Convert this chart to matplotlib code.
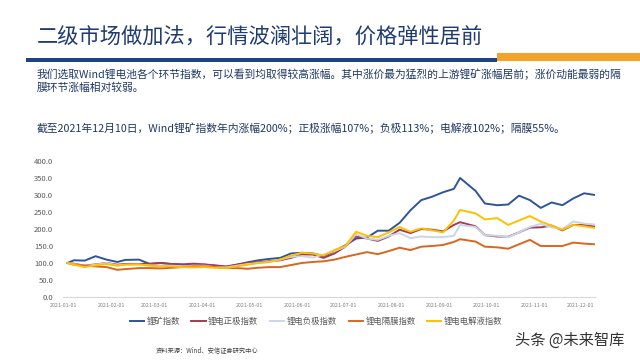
import pandas as pd
import matplotlib
matplotlib.use("Agg")
import matplotlib.pyplot as plt
import matplotlib.dates as mdates
from matplotlib.patches import Rectangle
from matplotlib.ticker import FormatStrFormatter

plt.rcParams["font.family"] = ["Noto Sans CJK SC", "DejaVu Sans"]

# ================= DATA =================
dates = [
    "2021-01-04", "2021-01-08", "2021-01-15", "2021-01-22", "2021-01-29",
    "2021-02-05", "2021-02-10", "2021-02-19", "2021-02-26", "2021-03-05",
    "2021-03-12", "2021-03-19", "2021-03-26", "2021-04-02", "2021-04-09",
    "2021-04-16", "2021-04-23", "2021-04-30", "2021-05-07", "2021-05-14",
    "2021-05-21", "2021-05-28", "2021-06-04", "2021-06-11", "2021-06-18",
    "2021-06-25", "2021-07-02", "2021-07-09", "2021-07-16", "2021-07-23",
    "2021-07-30", "2021-08-06", "2021-08-13", "2021-08-20", "2021-08-27",
    "2021-09-03", "2021-09-10", "2021-09-14", "2021-09-24", "2021-09-30",
    "2021-10-08", "2021-10-15", "2021-10-22", "2021-10-29", "2021-11-05",
    "2021-11-12", "2021-11-19", "2021-11-26", "2021-12-03", "2021-12-10",
]

lithium_mine = [
    100, 108, 107, 120, 110, 103, 109, 110, 97, 100,
    97, 95, 93, 95, 92, 88, 95, 102, 108, 112,
    115, 128, 130, 128, 120, 135, 152, 172, 175, 195,
    195, 218, 255, 285, 295, 308, 318, 350, 312, 275,
    270, 272, 298, 285, 262, 278, 270, 290, 305, 300,
]
cathode = [
    100, 98, 92, 96, 100, 95, 97, 97, 98, 100,
    97, 96, 98, 96, 93, 90, 95, 100, 102, 105,
    108, 115, 125, 125, 115, 128, 148, 178, 172, 165,
    178, 198, 188, 200, 198, 193, 212, 220, 208, 182,
    178, 177, 190, 204, 205, 210, 196, 212, 212, 207,
]
anode = [
    100, 97, 91, 95, 100, 93, 95, 95, 93, 92,
    92, 90, 92, 92, 88, 87, 92, 97, 100, 103,
    110, 118, 120, 116, 125, 135, 148, 185, 172, 168,
    180, 188, 173, 178, 176, 176, 180, 212, 206, 182,
    180, 176, 190, 206, 215, 205, 200, 222, 216, 213,
]
separator = [
    100, 95, 92, 90, 88, 80, 82, 85, 85, 84,
    86, 88, 90, 90, 88, 85, 85, 83, 86, 88,
    88, 94, 100, 103, 105, 110, 118, 125, 132, 126,
    135, 145, 138, 148, 150, 153, 162, 170, 163, 148,
    146, 142, 155, 168, 150, 150, 150, 160, 157, 155,
]
electrolyte = [
    100, 95, 88, 93, 97, 92, 95, 96, 92, 90,
    90, 88, 87, 88, 86, 85, 90, 95, 100, 103,
    110, 122, 130, 128, 122, 138, 150, 192, 180, 176,
    190, 206, 192, 202, 196, 190, 225, 256, 246, 228,
    232, 212, 225, 238, 222, 210, 198, 212, 208, 203,
]

series_names = ["锂矿指数", "锂电正极指数", "锂电负极指数", "锂电隔膜指数", "锂电电解液指数"]
series_colors = ["#2F5597", "#A63A4E", "#C9D5EC", "#D9661F", "#FFC000"]

title = "二级市场做加法，行情波澜壮阔，价格弹性居前"
para_1 = "我们选取Wind锂电池各个环节指数，可以看到均取得较高涨幅。其中涨价最为猛烈的上游锂矿涨幅居前；涨价动能最弱的隔"
para_2 = "膜环节涨幅相对较弱。"
para_3 = "截至2021年12月10日，Wind锂矿指数年内涨幅200%；正极涨幅107%；负极113%；电解液102%；隔膜55%。"
source = "资料来源：Wind、安信证券研究中心"
watermark = "头条 @未来智库"


W, H = 640, 360
fig = plt.figure(figsize=(6.4, 3.6), dpi=100)


def fx(px):
    return px / W


def fy(py):
    return 1 - py / H


# ================= HEADER =================
fig.text(fx(37), fy(37), title, fontsize=15.3, color="#1F3B70", va="center", ha="left")
fig.add_artist(Rectangle((fx(26), fy(62)), fx(497 - 26), 4.5 / H,
                         transform=fig.transFigure, color="#1F4283", lw=0))
fig.add_artist(Rectangle((fx(497), fy(61)), fx(143), 8 / H,
                         transform=fig.transFigure, color="#F4A32A", lw=0))

text_color = "#1F3864"
fig.text(fx(37), fy(74), para_1, fontsize=7.75, color=text_color, va="center")
fig.text(fx(37), fy(88), para_2, fontsize=7.75, color=text_color, va="center")
fig.text(fx(37), fy(128), para_3, fontsize=7.75, color=text_color, va="center")

# ================= LINE CHART =================
x = pd.to_datetime(dates)
ax = fig.add_axes([fx(63), fy(297), fx(595 - 63), (297 - 161) / H])

all_series = [lithium_mine, cathode, anode, separator, electrolyte]
for values, name, color in zip(all_series, series_names, series_colors):
    ax.plot(x, values, color=color, lw=1.4, label=name)

ax.set_xlim(pd.Timestamp("2021-01-01"), pd.Timestamp("2021-12-10"))
ax.set_ylim(0, 400)
ax.set_yticks(range(0, 401, 50))
ax.yaxis.set_major_formatter(FormatStrFormatter("%.1f"))
ax.set_xticks(pd.date_range("2021-01-01", "2021-12-01", freq="MS"))
ax.xaxis.set_major_formatter(mdates.DateFormatter("%Y-%m-%d"))

for side in ["top", "right", "left"]:
    ax.spines[side].set_visible(False)
ax.spines["bottom"].set_color("#D9D9D9")
ax.spines["bottom"].set_linewidth(0.8)
ax.tick_params(axis="y", length=0, pad=7, labelsize=5.5, labelcolor="#595959")
ax.tick_params(axis="x", length=0, pad=4, labelsize=3.8, labelcolor="#7F7F7F")

fig.legend(loc="center", bbox_to_anchor=(fx(316), fy(321)), ncol=5, frameon=False,
           fontsize=6, handlelength=1.7, handletextpad=0.3, columnspacing=1.4,
           labelcolor="#595959")

# ================= FOOTER =================
fig.text(fx(156), fy(350), source, fontsize=4.5, color="#404040", va="center")
fig.text(fx(515), fy(340), watermark, fontsize=11, color="#333333", va="center")

fig.savefig("out.png", dpi=100)
